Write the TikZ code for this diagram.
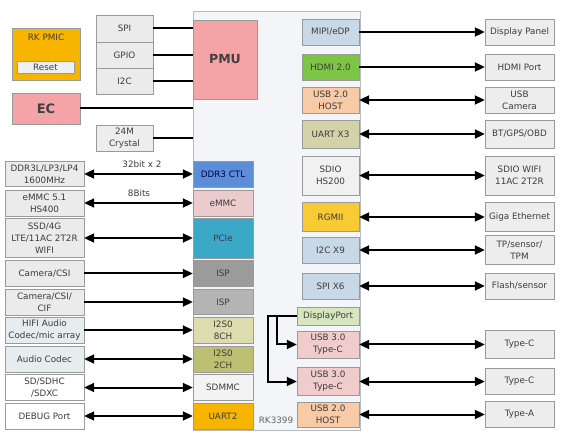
\documentclass[tikz,border=0pt]{standalone}
\usepackage{fontspec}
\setmainfont{DejaVu Sans}
\usetikzlibrary{arrows.meta}

\definecolor{txt}{HTML}{3C3C3C}
\definecolor{boxline}{HTML}{9A9A9A}
\definecolor{extfill}{HTML}{EDEDED}
\definecolor{lgray}{HTML}{EBEBEB}
\definecolor{lblue}{HTML}{E6EDEF}
\definecolor{chipfill}{HTML}{F3F5F8}
\definecolor{chipline}{HTML}{B5BDC5}
\definecolor{pmufill}{HTML}{F4A3A6}
\definecolor{pmicfill}{HTML}{F7B500}
\definecolor{resetfill}{HTML}{EEF1F3}
\definecolor{ddrfill}{HTML}{5B8ED6}
\definecolor{emmcfill}{HTML}{EBCBCB}
\definecolor{pciefill}{HTML}{3CA8C8}
\definecolor{ispafill}{HTML}{9B9B9B}
\definecolor{ispbfill}{HTML}{B4B4B4}
\definecolor{ieightfill}{HTML}{DCDCAE}
\definecolor{itwofill}{HTML}{BDBF73}
\definecolor{sdmmcfill}{HTML}{F3F3F3}
\definecolor{mipifill}{HTML}{C8D8E6}
\definecolor{hdmifill}{HTML}{7DC545}
\definecolor{usbtwofill}{HTML}{F8CBA6}
\definecolor{uartfill}{HTML}{D3D3AA}
\definecolor{sdiofill}{HTML}{F1F1F1}
\definecolor{rgmiifill}{HTML}{F8CA33}
\definecolor{dpfill}{HTML}{D7E6BF}
\definecolor{usbthreefill}{HTML}{F0CCCC}

\begin{document}
\begin{tikzpicture}[x=1pt, y=-1pt,
    blk/.style={draw=boxline, inner sep=0pt, align=center, text=txt,
        minimum height=26pt, font=\fontsize{8.8}{11.8}\selectfont},
    lbox/.style={blk, minimum width=79pt},
    rbox/.style={blk, fill=extfill, minimum width=69pt},
    lin/.style={blk, minimum width=60pt},
    rin/.style={blk, minimum width=57pt},
    wire/.style={line width=2pt},
    arr/.style={wire, -{Triangle[length=10pt,width=9pt]}},
    biarr/.style={wire, {Triangle[length=10pt,width=9pt]}-{Triangle[length=10pt,width=9pt]}}]
    \fill[white] (0,0) rectangle (565,438);
    \useasboundingbox (0,0) rectangle (565,438);

    % Chip
    \node[draw=chipline, fill=chipfill, minimum width=167pt, minimum height=419pt, inner sep=0pt] (soc) at (276.5,220.5) {};
    \node[blk, draw=none, text=txt!80] (socname) at (276,420) {RK3399};
    \node[blk, fill=pmufill, minimum width=64pt, minimum height=79pt,
        font=\fontsize{12.5}{14}\selectfont\bfseries, text=black!75] (pmu) at (225,59.5) {PMU};

    % Power side
    \node[blk, fill=pmicfill, minimum width=68pt, minimum height=52pt] (pmic) at (46,54) {};
    \node[blk, draw=none] (pmicname) at (46,37) {RK PMIC};
    \node[blk, fill=resetfill, minimum width=57pt, minimum height=12pt] (reset) at (45.5,67) {Reset};
    \node[blk, fill=pmufill, minimum width=68pt, minimum height=31pt,
        font=\fontsize{13}{15}\selectfont\bfseries, text=black!75] (ec) at (46,108.5) {EC};
    \node[blk, fill=lgray, minimum width=57pt, minimum height=27pt] (spi) at (124.5,28.5) {SPI};
    \node[blk, fill=lgray, minimum width=57pt] (gpio) at (124.5,55) {GPIO};
    \node[blk, fill=lgray, minimum width=57pt] (itwoc) at (124.5,81) {I2C};
    \node[blk, fill=extfill, minimum width=57pt] (xtal) at (124.5,138) {24M\\Crystal};

    \draw[wire] (spi.east) -- (spi.east -| pmu.west);
    \draw[wire] (gpio.east) -- (gpio.east -| pmu.west);
    \draw[wire] (itwoc.east) -- (itwoc.east -| pmu.west);
    \draw[wire] (ec.east) -- (ec.east -| soc.west);
    \draw[wire] (xtal.east) -- (xtal.east -| soc.west);

    % Left inner blocks
    \node[lin, fill=ddrfill, text=blue!30!black] (ddrctl) at (223,174) {DDR3 CTL};
    \node[lin, fill=emmcfill] (emmcctl) at (223,203) {eMMC};
    \node[lin, fill=pciefill, minimum height=40pt] (pcie) at (223,238) {PCIe};
    \node[lin, fill=ispafill] (ispa) at (223,273.5) {ISP};
    \node[lin, fill=ispbfill, minimum height=25pt] (ispb) at (223,302) {ISP};
    \node[lin, fill=ieightfill] (ieight) at (223,330) {I2S0\\8CH};
    \node[lin, fill=itwofill] (itwo) at (223,359) {I2S0\\2CH};
    \node[lin, fill=sdmmcfill] (sdmmc) at (223,387.5) {SDMMC};
    \node[lin, fill=pmicfill] (uarttwo) at (223,416) {UART2};

    % Left outer blocks
    \node[lbox, fill=lgray, minimum height=25pt] (ddr) at (44.5,174) {DDR3L/LP3/LP4\\1600MHz};
    \node[lbox, fill=lgray] (emmc) at (44.5,203) {eMMC 5.1\\HS400};
    \node[lbox, fill=lgray, minimum height=39pt] (ssd) at (44.5,238) {SSD/4G\\LTE/11AC 2T2R\\WIFI};
    \node[lbox, fill=lgray] (cama) at (44.5,273.5) {Camera/CSI};
    \node[lbox, fill=lgray] (camb) at (44.5,302) {Camera/CSI/\\CIF};
    \node[lbox, fill=lblue] (hifi) at (44.5,330) {HIFI Audio\\Codec/mic array};
    \node[lbox, fill=lblue] (audio) at (44.5,359) {Audio Codec};
    \node[lbox, fill=white] (sd) at (44.5,387.5) {SD/SDHC\\/SDXC};
    \node[lbox, fill=white] (debug) at (44.5,416) {DEBUG Port};

    \draw[biarr] (ddr) -- (ddrctl);
    \draw[biarr] (emmc) -- (emmcctl);
    \draw[biarr] (ssd) -- (pcie);
    \draw[arr] (cama) -- (ispa);
    \draw[arr] (camb) -- (ispb);
    \draw[arr] (hifi) -- (ieight);
    \draw[biarr] (audio) -- (itwo);
    \draw[biarr] (sd) -- (sdmmc);
    \draw[biarr] (debug) -- (uarttwo);
    \node[blk, draw=none] (ddrwidth) at (142,164) {32bit x 2};
    \node[blk, draw=none] (emmcwidth) at (139,193) {8Bits};

    % Right inner blocks
    \node[rin, fill=mipifill] (mipi) at (330.5,32) {MIPI/eDP};
    \node[rin, fill=hdmifill] (hdmi) at (330.5,67) {HDMI 2.0};
    \node[rin, fill=usbtwofill] (usbtwoa) at (330.5,100) {USB 2.0\\HOST};
    \node[rin, fill=uartfill, minimum height=28pt] (uartx) at (330.5,134) {UART X3};
    \node[rin, fill=sdiofill, minimum height=39pt] (sdio) at (330.5,175.5) {SDIO\\HS200};
    \node[rin, fill=rgmiifill, minimum height=29pt] (rgmii) at (330.5,217) {RGMII};
    \node[rin, fill=mipifill] (itwocx) at (330.5,250) {I2C X9};
    \node[rin, fill=mipifill] (spix) at (330.5,286) {SPI X6};
    \node[blk, fill=dpfill, minimum width=62pt, minimum height=18pt] (dp) at (328,316) {DisplayPort};
    \node[blk, fill=usbthreefill, minimum width=62pt, minimum height=27pt] (usbthreea) at (328,344.5) {USB 3.0\\Type-C};
    \node[blk, fill=usbthreefill, minimum width=62pt, minimum height=28pt] (usbthreeb) at (328,381.5) {USB 3.0\\Type-C};
    \node[blk, fill=usbtwofill, minimum width=62pt, minimum height=25pt] (usbtwob) at (328,414.5) {USB 2.0\\HOST};

    \draw[arr] (dp.west) -- ++(-20,0) |- (usbthreea.west);
    \draw[arr] (dp.west) -- ++(-29,0) |- (usbthreeb.west);

    % Right outer blocks
    \node[rbox] (panel) at (519.5,32) {Display Panel};
    \node[rbox] (hdmiport) at (519.5,67) {HDMI Port};
    \node[rbox] (usbcam) at (519.5,100) {USB\\Camera};
    \node[rbox, minimum height=28pt] (bt) at (519.5,134) {BT/GPS/OBD};
    \node[rbox, minimum height=39pt] (wifi) at (519.5,175.5) {SDIO WIFI\\11AC 2T2R};
    \node[rbox, minimum height=29pt] (giga) at (519.5,217) {Giga Ethernet};
    \node[rbox, minimum height=29pt] (tp) at (519.5,250) {TP/sensor/\\TPM};
    \node[rbox] (flash) at (519.5,286) {Flash/sensor};
    \node[rbox, minimum height=28pt] (typeca) at (519.5,344.5) {Type-C};
    \node[rbox] (typecb) at (519.5,381.5) {Type-C};
    \node[rbox] (typea) at (519.5,414.5) {Type-A};

    \draw[arr] (mipi) -- (panel);
    \draw[arr] (hdmi) -- (hdmiport);
    \draw[biarr] (usbtwoa) -- (usbcam);
    \draw[biarr] (uartx) -- (bt);
    \draw[biarr] (sdio) -- (wifi);
    \draw[biarr] (rgmii) -- (giga);
    \draw[biarr] (itwocx) -- (tp);
    \draw[biarr] (spix) -- (flash);
    \draw[biarr] (usbthreea) -- (typeca);
    \draw[biarr] (usbthreeb) -- (typecb);
    \draw[biarr] (usbtwob) -- (typea);
\end{tikzpicture}
\end{document}
